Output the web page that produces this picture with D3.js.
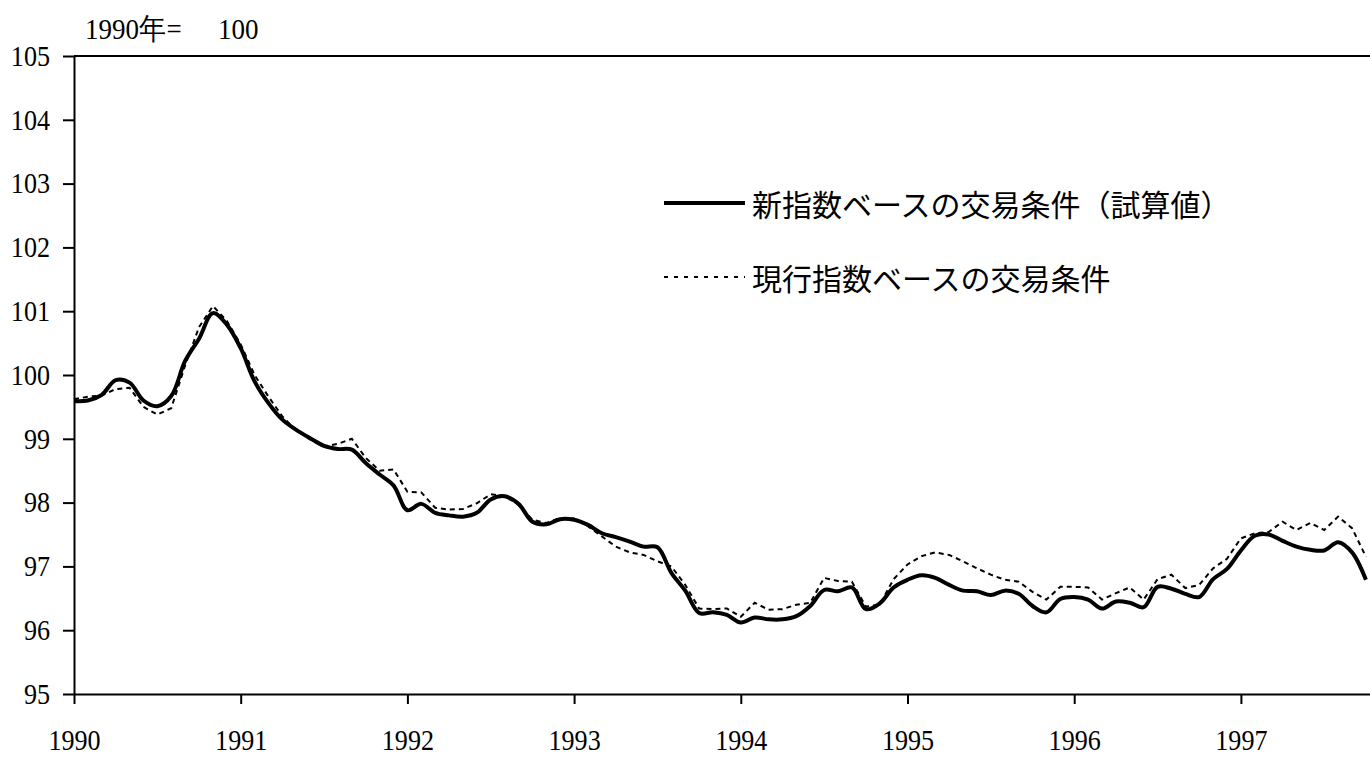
<!DOCTYPE html>
<html>
<head>
<meta charset="utf-8">
<script src="https://cdn.jsdelivr.net/npm/d3@7"></script>
<style>
  body { margin: 0; background: #fff; }
  svg { display: block; }
</style>
</head>
<body>
<script>
// monthly index, Jan 1990 = 0
var yearLabels = ["1990", "1991", "1992", "1993", "1994", "1995", "1996", "1997"];
var yTicks = [95, 96, 97, 98, 99, 100, 101, 102, 103, 104, 105];

// 新指数ベースの交易条件（試算値）
var newIndex = [
  99.59, 99.60, 99.69, 99.92, 99.88, 99.60, 99.51, 99.67, 100.22, 100.57, 100.97, 100.79,
  100.42, 99.90, 99.56, 99.30, 99.14, 99.01, 98.89, 98.84, 98.83, 98.62, 98.44, 98.27,
  97.88, 97.98, 97.84, 97.80, 97.78, 97.84, 98.05, 98.10, 97.98, 97.70, 97.66, 97.74,
  97.73, 97.65, 97.52, 97.46, 97.39, 97.31, 97.30, 96.90, 96.62, 96.27, 96.28, 96.24,
  96.12, 96.20, 96.17, 96.17, 96.22, 96.38, 96.63, 96.61, 96.67, 96.33, 96.42, 96.67,
  96.79, 96.86, 96.82, 96.71, 96.62, 96.61, 96.55, 96.62, 96.57, 96.38, 96.28, 96.49,
  96.52, 96.48, 96.34, 96.45, 96.43, 96.36, 96.68, 96.65, 96.57, 96.52, 96.80, 96.96,
  97.25, 97.48, 97.50, 97.40, 97.31, 97.26, 97.25, 97.38, 97.22, 96.79
];

// 現行指数ベースの交易条件
var curIndex = [
  99.62, 99.66, 99.68, 99.78, 99.80, 99.50, 99.38, 99.48, 100.15, 100.75, 101.08, 100.85,
  100.48, 100.00, 99.66, 99.35, 99.13, 98.99, 98.88, 98.92, 99.00, 98.70, 98.50, 98.52,
  98.17, 98.16, 97.92, 97.89, 97.90, 97.99, 98.13, 98.10, 97.97, 97.73, 97.68, 97.76,
  97.75, 97.63, 97.47, 97.31, 97.22, 97.18, 97.08, 97.00, 96.71, 96.34, 96.33, 96.34,
  96.21, 96.43, 96.32, 96.33, 96.40, 96.43, 96.82, 96.77, 96.76, 96.37, 96.40, 96.80,
  97.03, 97.16, 97.22, 97.18, 97.08, 96.97, 96.87, 96.79, 96.76, 96.60, 96.48, 96.68,
  96.68, 96.67, 96.48, 96.58, 96.67, 96.48, 96.80, 96.87, 96.66, 96.71, 96.97, 97.12,
  97.44, 97.52, 97.54, 97.70, 97.57, 97.68, 97.57, 97.78, 97.60, 97.15
];

var seriesNames = ["新指数ベースの交易条件（試算値）", "現行指数ベースの交易条件"];

var svgWidth = 1370;
var svgHeight = 758;
var serif = "'Liberation Serif', 'Times New Roman', serif";
var gothic = "'Noto Sans CJK JP', 'Noto Sans', sans-serif";

var svg = d3.select("body")
  .append("svg")
  .attr("width", svgWidth)
  .attr("height", svgHeight);

svg.append("rect")
  .attr("width", svgWidth)
  .attr("height", svgHeight)
  .attr("fill", "#fff");

// 12 months ~ 166.7px, chart runs past the right edge
var x = d3.scaleLinear()
  .domain([0, 96])
  .range([74, 74 + 96 * 166.7 / 12]);

var y = d3.scaleLinear()
  .domain([95, 105])
  .range([694, 56]);

// top frame line
svg.append("line")
  .attr("x1", x(0))
  .attr("x2", svgWidth)
  .attr("y1", y(105))
  .attr("y2", y(105))
  .attr("stroke", "#000")
  .attr("stroke-width", 2);

var leftAxis = d3.axisLeft(y)
  .tickValues(yTicks)
  .tickSize(11)
  .tickSizeOuter(0)
  .tickFormat(d3.format("d"));

var gy = svg.append("g")
  .attr("transform", `translate(${x(0)},0)`)
  .call(leftAxis);

gy.selectAll("text")
  .attr("x", -24 / 0.9)
  .attr("transform", "scale(0.9,1)")
  .style("font-family", serif)
  .style("font-size", "29px")
  .attr("fill", "#000");

var bottomAxis = d3.axisBottom(x)
  .tickValues(yearLabels.map((d, i) => i * 12))
  .tickSize(10)
  .tickSizeOuter(0)
  .tickFormat((d, i) => yearLabels[i]);

var gx = svg.append("g")
  .attr("transform", `translate(0,${y(95)})`)
  .call(bottomAxis);

gx.selectAll("text")
  .attr("y", 35)
  .attr("transform", "scale(0.9,1)")
  .style("font-family", serif)
  .style("font-size", "29px")
  .attr("fill", "#000");

svg.selectAll(".domain, .tick line")
  .attr("stroke", "#000")
  .attr("stroke-width", 2);

// base note
svg.append("text")
  .attr("x", 85 / 0.9)
  .attr("y", 39)
  .attr("transform", "scale(0.9,1)")
  .style("font-family", serif)
  .style("font-size", "30px")
  .text("1990年=");

svg.append("text")
  .attr("x", 218 / 0.9)
  .attr("y", 39)
  .attr("transform", "scale(0.9,1)")
  .style("font-family", serif)
  .style("font-size", "30px")
  .text("100");

var lineSolid = d3.line()
  .x((d, i) => x(i))
  .y(d => y(d))
  .curve(d3.curveCatmullRom);

var lineDotted = d3.line()
  .x((d, i) => x(i))
  .y(d => y(d));

svg.append("path")
  .datum(curIndex)
  .attr("d", lineDotted)
  .attr("fill", "none")
  .attr("stroke", "#000")
  .attr("stroke-width", 2)
  .attr("stroke-dasharray", "5,4");

svg.append("path")
  .datum(newIndex)
  .attr("d", lineSolid)
  .attr("fill", "none")
  .attr("stroke", "#000")
  .attr("stroke-width", 4)
  .attr("stroke-linejoin", "round");

// legend
var legend = svg.append("g");
var legendRows = [
  { name: seriesNames[0], ly: 203, width: 4, dash: null },
  { name: seriesNames[1], ly: 277, width: 2, dash: "4,6" }
];

legendRows.forEach(function(r) {
  legend.append("line")
    .attr("x1", 664)
    .attr("x2", 745)
    .attr("y1", r.ly)
    .attr("y2", r.ly)
    .attr("stroke", "#000")
    .attr("stroke-width", r.width)
    .attr("stroke-dasharray", r.dash);
  legend.append("text")
    .attr("x", 752)
    .attr("y", r.ly)
    .attr("dominant-baseline", "central")
    .style("font-family", gothic)
    .style("font-size", "30px")
    .text(r.name);
});
</script>
</body>
</html>
